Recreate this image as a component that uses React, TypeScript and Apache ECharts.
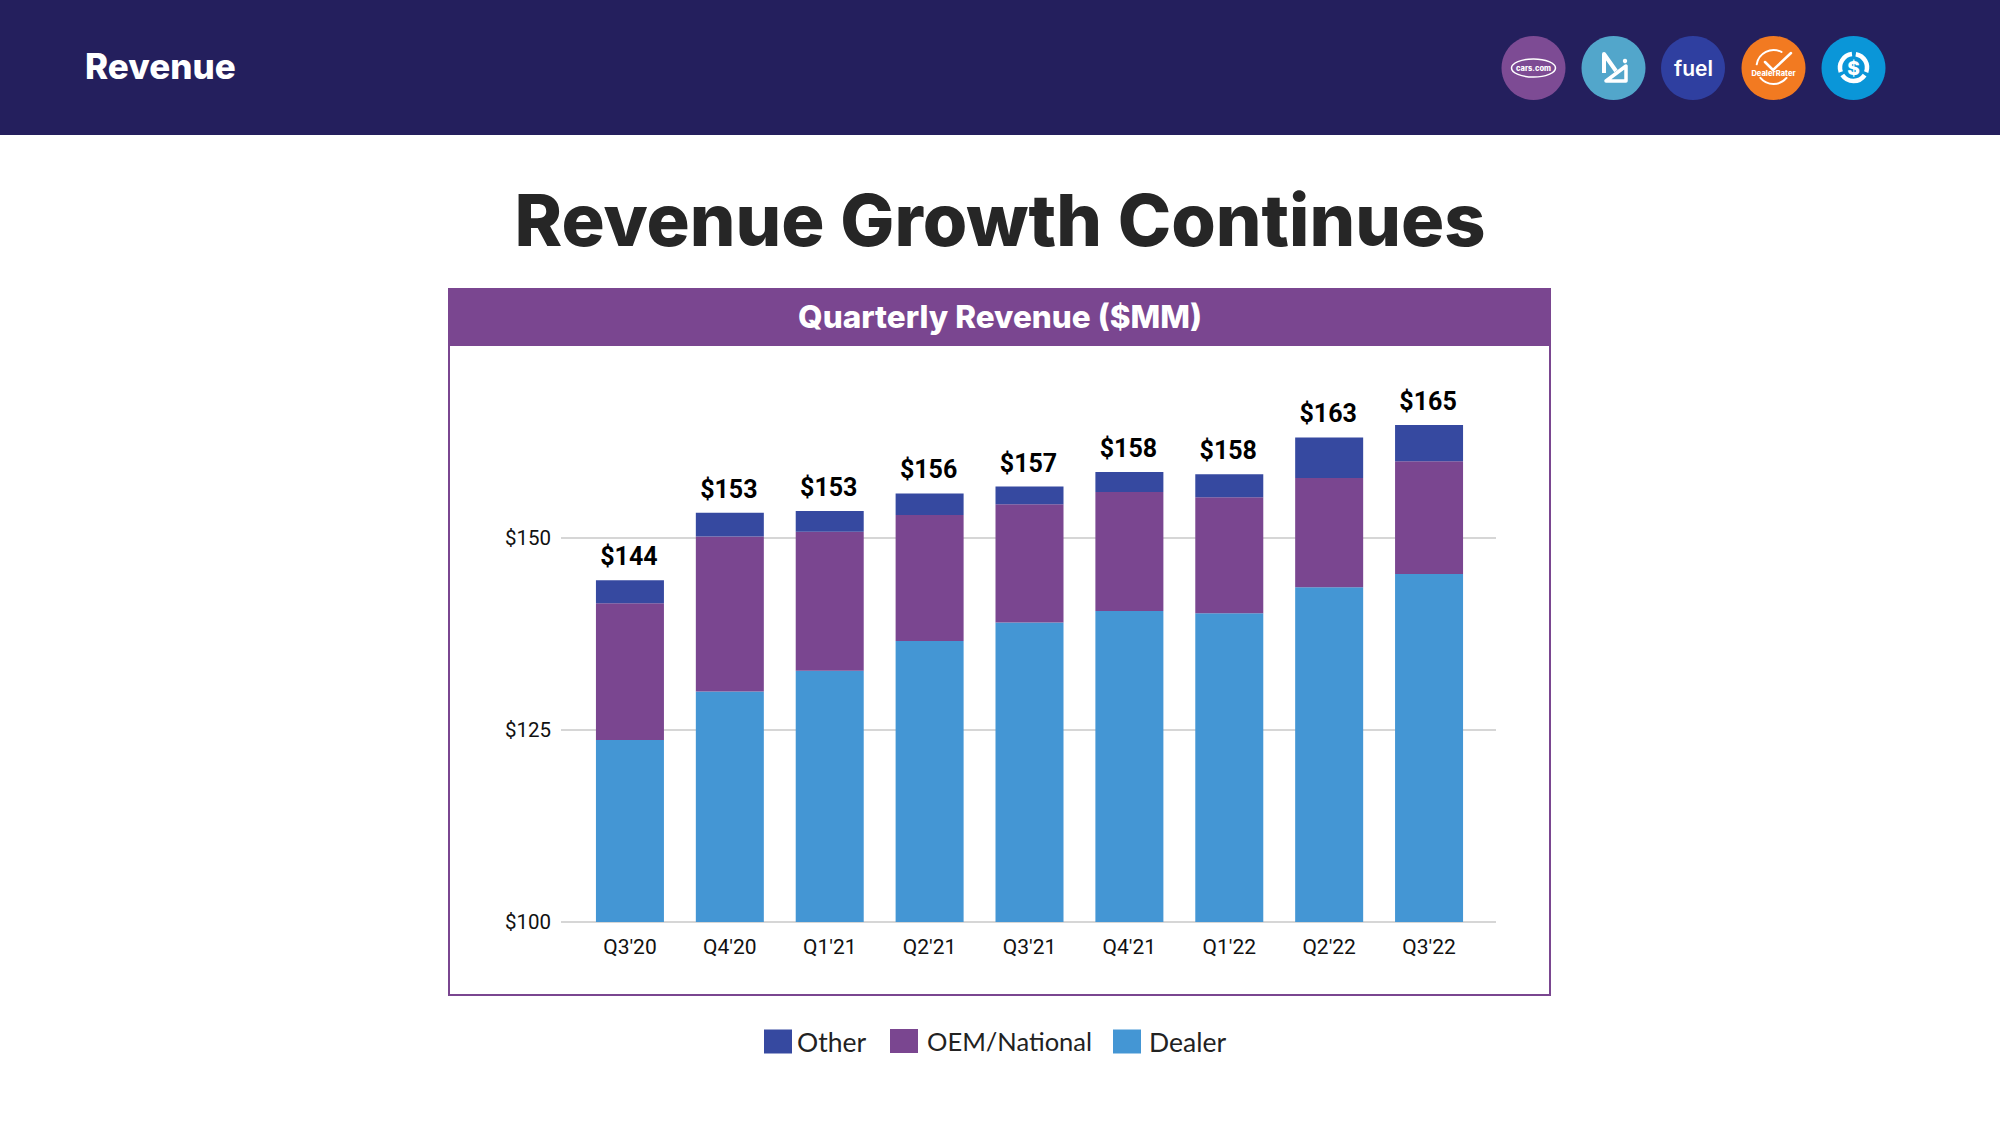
import React, { useEffect, useRef } from "react";
import * as echarts from "echarts";

const categories = ["Q3'20", "Q4'20", "Q1'21", "Q2'21", "Q3'21", "Q4'21", "Q1'22", "Q2'22", "Q3'22"];
const dealer = [123.7, 130.0, 132.7, 136.6, 139.0, 140.5, 140.2, 143.6, 145.3];
const oem = [17.8, 20.2, 18.1, 16.4, 15.4, 15.5, 15.1, 14.2, 14.7];
const other = [3.0, 3.1, 2.7, 2.8, 2.3, 2.6, 3.0, 5.3, 4.7];
const totalLabels = ["$144", "$153", "$153", "$156", "$157", "$158", "$158", "$163", "$165"];
const yTicks = [100, 125, 150];

const NAVY = "#241f5d";
const PURPLE = "#7a4690";
const INDIGO = "#3649a0";
const BLUE = "#4496d4";
const HEAD_FONT = "Inter, sans-serif";
const BODY_FONT = "Roboto, sans-serif";

const white = { stroke: "#fff", fill: "none", lineCap: "round", lineJoin: "round" };
const whiteText = (text: string, x: number, y: number, fontSize: number, fontWeight: any = 700) => ({
  type: "text",
  x,
  y,
  style: { text, fill: "#fff", fontSize, fontWeight, fontFamily: HEAD_FONT, align: "center", verticalAlign: "middle" },
});

function icons() {
  const cy = 68;
  const c = [1533.5, 1613.5, 1693, 1773.5, 1853.5];
  const colors = ["#7d4b94", "#52a6cb", "#2f3fa0", "#f27a21", "#0a96d8"];
  const out: any[] = colors.map((fill, i) => ({
    type: "circle",
    shape: { cx: c[i], cy, r: 32 },
    style: { fill },
  }));
  out.push(
    { type: "ellipse", shape: { cx: c[0], cy, rx: 22, ry: 9 }, style: { ...white, lineWidth: 1.5 } },
    whiteText("cars.com", c[0], cy, 7.5, 800),
    { type: "polyline", shape: { points: [[1604, 73], [1604, 54], [1616, 71]] }, style: { ...white, lineWidth: 4, lineCap: "butt" } },
    { type: "polygon", shape: { points: [[1606, 81], [1626, 66], [1626, 81]] }, style: { ...white, lineWidth: 3.5 } },
    { type: "circle", shape: { cx: 1625, cy: 61, r: 2.2 }, style: { fill: "#fff" } },
    whiteText("fuel", c[2] + 0.5, cy + 0.5, 21, 600),
    { type: "arc", shape: { cx: c[3], cy: cy - 1, r: 17, startAngle: 3.3, endAngle: 5.2, clockwise: true }, style: { ...white, lineWidth: 2 } },
    { type: "arc", shape: { cx: c[3], cy: cy - 1, r: 17, startAngle: 0.7, endAngle: 2.45, clockwise: true }, style: { ...white, lineWidth: 2 } },
    { type: "polyline", shape: { points: [[1765, 62], [1773, 70], [1791, 53]] }, style: { ...white, lineWidth: 2.5 } },
    whiteText("DealerRater", c[3], cy + 5, 7.5, 800),
    { type: "arc", shape: { cx: c[4], cy: cy - 0.5, r: 13.5, startAngle: -1.4, endAngle: 0.35, clockwise: true }, style: { ...white, lineWidth: 4.5, lineCap: "butt" } },
    { type: "arc", shape: { cx: c[4], cy: cy - 0.5, r: 13.5, startAngle: 0.6, endAngle: 2.55, clockwise: true }, style: { ...white, lineWidth: 4.5, lineCap: "butt" } },
    { type: "arc", shape: { cx: c[4], cy: cy - 0.5, r: 13.5, startAngle: 2.8, endAngle: 4.6, clockwise: true }, style: { ...white, lineWidth: 4.5, lineCap: "butt" } },
    whiteText("$", c[4], cy, 19, 800),
  );
  return out;
}

const legendItem = (name: string, left: number, fontSize: number, leftPad: number) => ({
  left,
  top: 1023,
  itemWidth: 28,
  itemHeight: 24,
  icon: "rect",
  data: [name],
  textStyle: { color: "#222", fontSize, fontFamily: "Lato, sans-serif", padding: [0, 0, 0, leftPad] },
});

export default function App() {
  const ref = useRef<HTMLDivElement>(null);
  useEffect(() => {
    const chart = echarts.init(ref.current!, undefined, { renderer: "svg" });
    const barSeries = (name: string, data: number[], color: string) => ({
      name,
      type: "bar",
      stack: "revenue",
      barWidth: 68,
      xAxisIndex: 0,
      yAxisIndex: 0,
      data,
      itemStyle: { color },
    });
    chart.setOption({
      animation: false,
      backgroundColor: "#fff",
      textStyle: { fontFamily: BODY_FONT },
      grid: [
        { left: 580, top: 346, width: 899, height: 576 },
        { left: 561, top: 346, width: 935, height: 576 },
      ],
      xAxis: [
        {
          type: "category",
          gridIndex: 0,
          data: categories,
          axisLine: { show: false },
          axisTick: { show: false },
          axisLabel: { color: "#111", fontSize: 21, fontFamily: BODY_FONT, margin: 14 },
        },
        { type: "value", gridIndex: 1, show: false, min: 0, max: 1, splitLine: { show: false } },
      ],
      yAxis: [
        { type: "value", gridIndex: 0, show: false, min: 100, max: 175, interval: 25, splitLine: { show: false } },
        {
          type: "value",
          gridIndex: 1,
          min: 100,
          max: 175,
          interval: 25,
          axisLine: { show: false },
          axisTick: { show: false },
          axisLabel: {
            color: "#111",
            fontSize: 20.5,
            fontFamily: BODY_FONT,
            margin: 10,
            formatter: (v: number) => (yTicks.includes(v) ? "$" + v : ""),
          },
          splitLine: {
            lineStyle: { color: "#c8c8c8", width: 1.5 },
            showMinLine: true,
            showMaxLine: false,
          },
        },
      ],
      legend: [
        legendItem("Other", 759, 26.5, 0),
        legendItem("OEM/National", 885, 25.5, 4),
        legendItem("Dealer", 1108, 26.5, 3),
      ],
      series: [
        barSeries("Dealer", dealer, BLUE),
        barSeries("OEM/National", oem, PURPLE),
        {
          ...barSeries("Other", other, INDIGO),
          label: {
            show: true,
            position: "top",
            distance: 11,
            offset: [-1, 0],
            color: "#000",
            fontSize: 25,
            fontWeight: 700,
            fontFamily: BODY_FONT,
            formatter: (p: any) => totalLabels[p.dataIndex],
          },
        },
      ],
      graphic: [
        { type: "rect", z: -10, shape: { x: 0, y: 0, width: 2000, height: 135 }, style: { fill: NAVY } },
        {
          type: "text",
          x: 85,
          y: 66,
          style: { text: "Revenue", fill: "#fff", fontSize: 35, fontWeight: 800, fontFamily: HEAD_FONT, verticalAlign: "middle" },
        },
        ...icons(),
        {
          type: "text",
          x: 1000,
          y: 219,
          style: { text: "Revenue Growth Continues", fill: "#262626", fontSize: 72, fontWeight: 800, fontFamily: HEAD_FONT, align: "center", verticalAlign: "middle" },
        },
        { type: "rect", z: -10, shape: { x: 449, y: 289, width: 1101, height: 706 }, style: { fill: "none", stroke: PURPLE, lineWidth: 2 } },
        { type: "rect", z: -9, shape: { x: 448, y: 288, width: 1103, height: 58 }, style: { fill: PURPLE } },
        {
          type: "text",
          x: 1000,
          y: 316,
          style: { text: "Quarterly Revenue ($MM)", fill: "#fff", fontSize: 31.5, fontWeight: 800, fontFamily: HEAD_FONT, align: "center", verticalAlign: "middle" },
        },
      ],
    });
    return () => chart.dispose();
  }, []);
  return <div ref={ref} style={{ position: "absolute", left: 0, top: 0, width: 2000, height: 1125 }} />;
}
